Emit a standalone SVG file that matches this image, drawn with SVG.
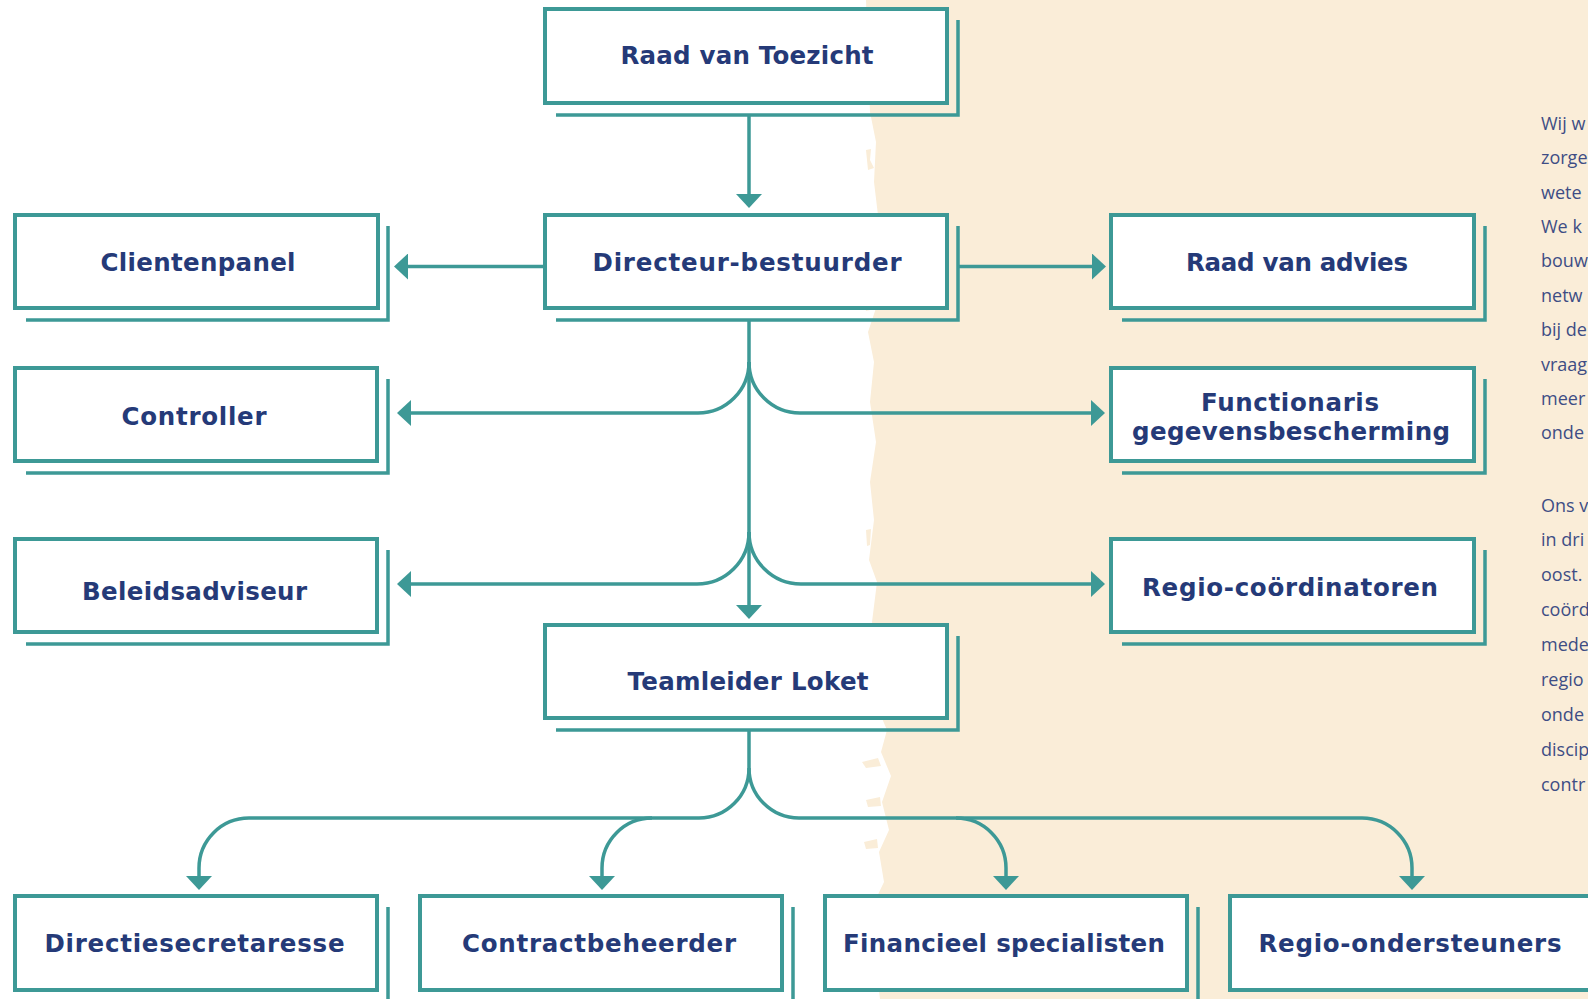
<svg xmlns="http://www.w3.org/2000/svg" width="1588" height="999" viewBox="0 0 1588 999">
<defs>
<style>
.box{fill:#fff;stroke:#3d9996;stroke-width:4}
.sh{fill:none;stroke:#3d9996;stroke-width:3.5}
.lbl{font-family:'DejaVu Sans','Liberation Sans',sans-serif;font-weight:700;font-size:24.5px;fill:#253a78;text-anchor:middle}
.para{font-family:'Open Sans',Lato,'Liberation Sans',sans-serif;font-weight:400;font-size:18px;fill:#3e4d85}
.con{fill:none;stroke:#3d9996;stroke-width:3.5}
.bg{fill:#faedd8}
</style>
<marker id="ah" markerUnits="userSpaceOnUse" markerWidth="15" markerHeight="26" refX="1" refY="13" orient="auto">
<path d="M0,0 L14,13 L0,26 Z" fill="#3d9996"/>
</marker>
</defs>
<rect width="1588" height="999" fill="#fff"/>
<g id="background">
<path class="bg" d="M866,0 L1588,0 L1588,999 L880,999 L876,965 L880,935 L873,905 L884,882 L879,852 L889,830 L882,802 L891,776 L881,752 L887,730 L875,702 L879,662 L872,622 L877,582 L869,560 L874,520 L870,482 L876,442 L870,402 L874,362 L868,332 L878,302 L872,262 L880,232 L874,182 L876,142 L870,112 L868,62 Z"/>
<path class="bg" d="M866,150 L871,149 L870,160 L874,168 L868,170 Z"/>
<path class="bg" d="M864,300 L871,298 L870,310 L866,311 Z"/>
<path class="bg" d="M866,530 L871,529 L870,545 L867,546 Z"/>
<path class="bg" d="M862,762 L878,758 L881,766 L866,768 Z"/>
<path class="bg" d="M866,800 L880,797 L881,806 L868,807 Z"/>
<path class="bg" d="M864,842 L877,839 L878,848 L866,849 Z"/>
<path class="bg" d="M866,940 L875,938 L874,948 L867,948 Z"/>
</g>
<g id="text-column">
<text class="para" x="1541" y="130">Wij w</text>
<text class="para" x="1541" y="164.4">zorge</text>
<text class="para" x="1541" y="198.7">wete</text>
<text class="para" x="1541" y="233">We k</text>
<text class="para" x="1541" y="267.4">bouw</text>
<text class="para" x="1541" y="301.8">netw</text>
<text class="para" x="1541" y="336">bij de</text>
<text class="para" x="1541" y="370.5">vraag</text>
<text class="para" x="1541" y="404.8">meer</text>
<text class="para" x="1541" y="439">onde</text>
<text class="para" x="1541" y="511.5">Ons v</text>
<text class="para" x="1541" y="546.4">in dri</text>
<text class="para" x="1541" y="581.3">oost.</text>
<text class="para" x="1541" y="616.2">coörd</text>
<text class="para" x="1541" y="651.1">mede</text>
<text class="para" x="1541" y="686">regio</text>
<text class="para" x="1541" y="720.9">onde</text>
<text class="para" x="1541" y="755.8">discip</text>
<text class="para" x="1541" y="790.7">contr</text>
</g>
<g id="connectors">
<path class="con" d="M749,115 V195" marker-end="url(#ah)"/>
<path class="con" d="M543,266.5 H407" marker-end="url(#ah)"/>
<path class="con" d="M958,266.5 H1093" marker-end="url(#ah)"/>
<path class="con" d="M749,320 V606" marker-end="url(#ah)"/>
<path class="con" d="M749,362 A51,51 0 0 1 698,413 H410" marker-end="url(#ah)"/>
<path class="con" d="M749,362 A51,51 0 0 0 800,413 H1092" marker-end="url(#ah)"/>
<path class="con" d="M749,532 A52,52 0 0 1 697,584 H410" marker-end="url(#ah)"/>
<path class="con" d="M749,532 A52,52 0 0 0 801,584 H1092" marker-end="url(#ah)"/>
<path class="con" d="M749,730 V768"/>
<path class="con" d="M749,768 A50,50 0 0 1 699,818 H249 A50,50 0 0 0 199,868 V877" marker-end="url(#ah)"/>
<path class="con" d="M652,818 A50,50 0 0 0 602,868 V877" marker-end="url(#ah)"/>
<path class="con" d="M749,768 A50,50 0 0 0 799,818 H1362 A50,50 0 0 1 1412,868 V877" marker-end="url(#ah)"/>
<path class="con" d="M956,818 A50,50 0 0 1 1006,868 V877" marker-end="url(#ah)"/>
</g>
<g id="node-raad-van-toezicht">
<polyline class="sh" points="556,115 958,115 958,20"/>
<rect class="box" x="545" y="9" width="402" height="94"/>
<text class="lbl" x="747" y="64" textLength="253">Raad van Toezicht</text>
</g>
<g id="node-directeur-bestuurder">
<polyline class="sh" points="556,320 958,320 958,226"/>
<rect class="box" x="545" y="215" width="402" height="93"/>
<text class="lbl" x="747" y="271" textLength="309">Directeur-bestuurder</text>
</g>
<g id="node-clientenpanel">
<polyline class="sh" points="26,320 388,320 388,226"/>
<rect class="box" x="15" y="215" width="363" height="93"/>
<text class="lbl" x="198" y="271" textLength="195">Clientenpanel</text>
</g>
<g id="node-raad-van-advies">
<polyline class="sh" points="1122,320 1485,320 1485,226"/>
<rect class="box" x="1111" y="215" width="363" height="93"/>
<text class="lbl" x="1297" y="271" textLength="222">Raad van advies</text>
</g>
<g id="node-controller">
<polyline class="sh" points="26,473 388,473 388,379"/>
<rect class="box" x="15" y="368" width="362" height="93"/>
<text class="lbl" x="194" y="425" textLength="145">Controller</text>
</g>
<g id="node-functionaris">
<polyline class="sh" points="1122,473 1485,473 1485,379"/>
<rect class="box" x="1111" y="368" width="363" height="93"/>
<text class="lbl" x="1290" y="411" textLength="178">Functionaris</text>
<text class="lbl" x="1291" y="440" textLength="318">gegevensbescherming</text>
</g>
<g id="node-beleidsadviseur">
<polyline class="sh" points="26,644 388,644 388,550"/>
<rect class="box" x="15" y="539" width="362" height="93"/>
<text class="lbl" x="194.5" y="600" textLength="225">Beleidsadviseur</text>
</g>
<g id="node-regio-coordinatoren">
<polyline class="sh" points="1122,644 1485,644 1485,550"/>
<rect class="box" x="1111" y="539" width="363" height="93"/>
<text class="lbl" x="1290" y="596" textLength="296">Regio-coördinatoren</text>
</g>
<g id="node-teamleider-loket">
<polyline class="sh" points="556,730 958,730 958,636"/>
<rect class="box" x="545" y="625" width="402" height="93"/>
<text class="lbl" x="748" y="690" textLength="241">Teamleider Loket</text>
</g>
<g id="node-directiesecretaresse">
<polyline class="sh" points="26,1002 388,1002 388,907"/>
<rect class="box" x="15" y="896" width="362" height="94"/>
<text class="lbl" x="194.5" y="952" textLength="300">Directiesecretaresse</text>
</g>
<g id="node-contractbeheerder">
<polyline class="sh" points="431,1002 793,1002 793,907"/>
<rect class="box" x="420" y="896" width="362" height="94"/>
<text class="lbl" x="599" y="952" textLength="274">Contractbeheerder</text>
</g>
<g id="node-financieel-specialisten">
<polyline class="sh" points="836,1002 1198,1002 1198,907"/>
<rect class="box" x="825" y="896" width="362" height="94"/>
<text class="lbl" x="1004" y="952" textLength="322">Financieel specialisten</text>
</g>
<g id="node-regio-ondersteuners">
<polyline class="sh" points="1241,1002 1603,1002 1603,907"/>
<rect class="box" x="1230" y="896" width="362" height="94"/>
<text class="lbl" x="1410" y="952" textLength="303">Regio-ondersteuners</text>
</g>
</svg>
